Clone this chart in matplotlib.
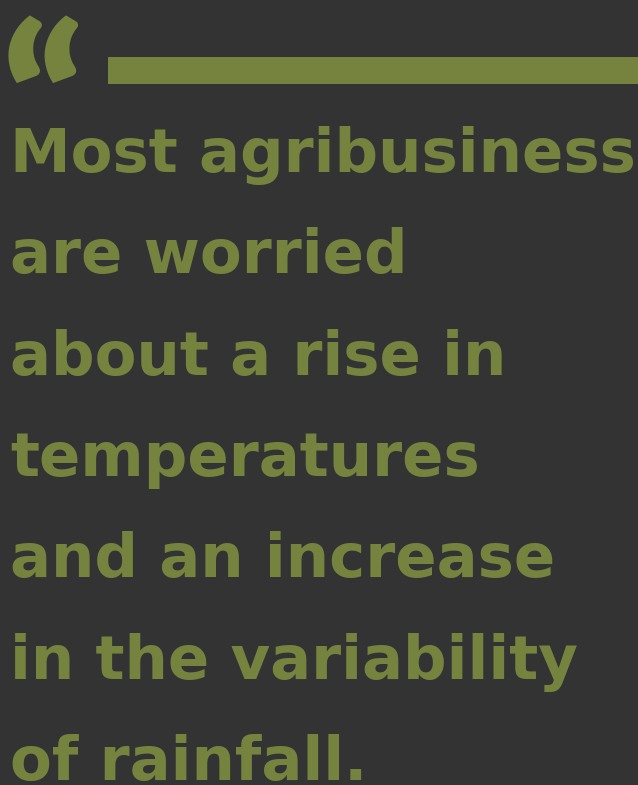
import matplotlib
matplotlib.use('Agg')
import matplotlib.pyplot as plt
from matplotlib.patches import Rectangle
from matplotlib.textpath import TextPath
from matplotlib.font_manager import FontProperties

# Contenido del texto destacado
lineas = [
    'Most agribusiness',
    'are worried',
    'about a rise in',
    'temperatures',
    'and an increase',
    'in the variability',
    'of rainfall.',
]
comillas = '\u201c'

fondo = '#333333'
verde = '#75833f'

W, H = 638, 785
fig = plt.figure(figsize=(W / 100, H / 100), dpi=100, facecolor=fondo)
ax = fig.add_axes([0, 0, 1, 1])
ax.set_xlim(0, W)
ax.set_ylim(H, 0)
ax.axis('off')
ax.set_facecolor(fondo)

fuente = 'DejaVu Sans'
x0 = 10
base0 = 172
paso = 101.3

textos = []
for i, linea in enumerate(lineas):
    t = ax.text(x0, base0 + paso * i, linea, color=verde, fontsize=44,
                fontfamily=fuente, fontweight='bold', va='baseline', ha='left')
    textos.append(t)

# barra horizontal junto a las comillas
ax.add_patch(Rectangle((108, 57), W - 108, 27, color=verde, lw=0))

# comillas: medir la tinta del glifo para encajarlo en la caja x 8-88, y 15-83
prop_q = FontProperties(family='Lato', weight='heavy')
ext = TextPath((0, 0), comillas, size=100, prop=prop_q).get_extents()
alto_px = 68
fs_q = 100 * alto_px / (ext.height * 100 / 72)
esc = fs_q / 100 * 100 / 72  # unidades de path -> pixeles
qx = 8 - ext.x0 * esc
qy = 15 + ext.y1 * esc
ax.text(qx, qy, comillas, color=verde, fontproperties=prop_q, fontsize=fs_q,
        va='baseline', ha='left')

# ajustar el tamaño de fuente para que la primera línea mida ~625 px
fig.canvas.draw()
r = fig.canvas.get_renderer()
ancho = textos[0].get_window_extent(r).width
fs = 44 * 625 / ancho
for t in textos:
    t.set_fontsize(fs)

fig.savefig('out.png', dpi=100, facecolor=fondo)
